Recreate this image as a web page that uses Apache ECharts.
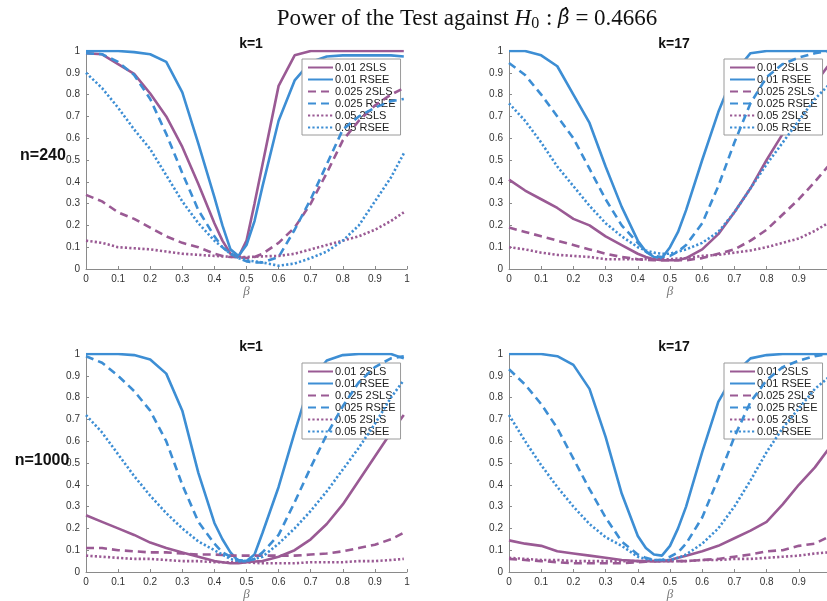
<!DOCTYPE html>
<html><head><meta charset="utf-8">
<script src="https://cdn.jsdelivr.net/npm/echarts@6/dist/echarts.min.js"></script>
<style>html,body{margin:0;padding:0;background:#fff}#c{width:827px;height:601px}</style>
</head><body><div id="c"></div>
<script>
// ---- data ----
const beta = [0,0.05,0.1,0.15,0.2,0.25,0.3,0.35,0.4,0.425,0.45,0.475,0.5,0.525,0.55,0.6,0.65,0.7,0.75,0.8,0.85,0.9,0.95,0.99];
const seriesNames = ['0.01 2SLS','0.01 RSEE','0.025 2SLS','0.025 RSEE','0.05 2SLS','0.05 RSEE'];
const panelTitles = ['k=1','k=17','k=1','k=17'];
const rowLabels = ['n=240','n=1000'];

// n=240, k=1
const n240k1_2sls01 = [0.99,0.985,0.94,0.895,0.805,0.70,0.56,0.39,0.21,0.13,0.07,0.055,0.13,0.3,0.48,0.84,0.98,1.0,1.0,1.0,1.0,1.0,1.0,1.0];
const n240k1_rsee01 = [1.0,1.0,1.0,0.995,0.985,0.95,0.81,0.575,0.33,0.2,0.09,0.06,0.11,0.22,0.38,0.68,0.865,0.95,0.975,0.98,0.98,0.98,0.98,0.975];
const n240k1_2sls025 = [0.34,0.31,0.26,0.23,0.19,0.15,0.12,0.1,0.07,0.06,0.055,0.055,0.05,0.055,0.07,0.12,0.19,0.3,0.44,0.59,0.68,0.75,0.8,0.83];
const n240k1_rsee025 = [0.99,0.985,0.95,0.89,0.78,0.62,0.44,0.27,0.15,0.1,0.07,0.05,0.035,0.03,0.03,0.055,0.18,0.32,0.48,0.64,0.7,0.74,0.77,0.78];
const n240k1_2sls05 = [0.13,0.12,0.1,0.095,0.09,0.08,0.07,0.065,0.06,0.058,0.056,0.055,0.055,0.056,0.058,0.06,0.07,0.09,0.11,0.13,0.15,0.18,0.22,0.26];
const n240k1_rsee05 = [0.9,0.83,0.74,0.64,0.55,0.43,0.31,0.21,0.13,0.1,0.07,0.05,0.04,0.035,0.03,0.015,0.025,0.05,0.08,0.13,0.2,0.31,0.42,0.53];

// n=240, k=17
const n240k17_2sls01 = [0.41,0.36,0.32,0.28,0.23,0.2,0.15,0.11,0.07,0.055,0.045,0.04,0.04,0.04,0.05,0.09,0.16,0.26,0.37,0.5,0.62,0.74,0.85,0.93];
const n240k17_rsee01 = [1.0,1.0,0.98,0.93,0.8,0.67,0.47,0.285,0.13,0.08,0.055,0.05,0.1,0.17,0.27,0.5,0.72,0.9,0.99,1.0,1.0,1.0,1.0,1.0];
const n240k17_2sls025 = [0.19,0.17,0.15,0.13,0.11,0.09,0.07,0.055,0.045,0.042,0.04,0.04,0.04,0.04,0.04,0.05,0.07,0.09,0.13,0.18,0.25,0.32,0.4,0.47];
const n240k17_rsee025 = [0.945,0.89,0.8,0.7,0.6,0.46,0.32,0.2,0.12,0.08,0.06,0.055,0.06,0.08,0.11,0.21,0.38,0.58,0.76,0.88,0.94,0.97,0.99,1.0];
const n240k17_2sls05 = [0.1,0.09,0.075,0.065,0.06,0.055,0.045,0.045,0.045,0.045,0.045,0.045,0.045,0.048,0.05,0.06,0.065,0.075,0.085,0.1,0.12,0.14,0.175,0.21];
const n240k17_rsee05 = [0.76,0.68,0.58,0.47,0.38,0.29,0.21,0.15,0.1,0.085,0.075,0.07,0.07,0.08,0.09,0.12,0.17,0.26,0.37,0.48,0.58,0.68,0.78,0.84];

// n=1000, k=1
const n1000k1_2sls01 = [0.26,0.23,0.2,0.17,0.135,0.11,0.09,0.07,0.05,0.045,0.04,0.04,0.045,0.048,0.05,0.07,0.1,0.15,0.22,0.31,0.42,0.53,0.64,0.72];
const n1000k1_rsee01 = [1.0,1.0,1.0,0.995,0.975,0.91,0.74,0.455,0.225,0.15,0.09,0.05,0.05,0.08,0.18,0.39,0.64,0.88,0.97,0.995,1.0,1.0,1.0,0.98];
const n1000k1_2sls025 = [0.11,0.11,0.1,0.095,0.09,0.09,0.085,0.08,0.08,0.078,0.075,0.075,0.075,0.075,0.075,0.075,0.075,0.08,0.085,0.095,0.11,0.125,0.15,0.18];
const n1000k1_rsee025 = [0.99,0.96,0.9,0.83,0.74,0.6,0.4,0.23,0.13,0.09,0.07,0.055,0.05,0.06,0.09,0.17,0.32,0.48,0.63,0.76,0.87,0.94,0.98,0.99];
const n1000k1_2sls05 = [0.075,0.07,0.065,0.06,0.06,0.055,0.05,0.05,0.045,0.045,0.045,0.045,0.045,0.042,0.04,0.04,0.04,0.045,0.045,0.045,0.05,0.05,0.055,0.06];
const n1000k1_rsee05 = [0.72,0.64,0.54,0.44,0.35,0.27,0.2,0.14,0.1,0.08,0.06,0.05,0.05,0.06,0.07,0.13,0.2,0.28,0.37,0.47,0.57,0.68,0.8,0.88];

// n=1000, k=17
const n1000k17_2sls01 = [0.145,0.13,0.12,0.095,0.085,0.075,0.065,0.055,0.05,0.05,0.05,0.05,0.055,0.065,0.075,0.095,0.12,0.155,0.19,0.23,0.31,0.4,0.48,0.56];
const n1000k17_rsee01 = [1.0,1.0,1.0,0.99,0.95,0.84,0.62,0.36,0.165,0.11,0.08,0.075,0.12,0.2,0.3,0.55,0.78,0.91,0.98,0.995,1.0,1.0,1.0,1.0];
const n1000k17_2sls025 = [0.06,0.055,0.05,0.045,0.04,0.04,0.04,0.04,0.045,0.047,0.05,0.05,0.05,0.05,0.05,0.055,0.06,0.07,0.08,0.095,0.1,0.12,0.13,0.16];
const n1000k17_rsee025 = [0.93,0.86,0.77,0.66,0.52,0.38,0.25,0.14,0.08,0.065,0.055,0.055,0.07,0.09,0.13,0.25,0.43,0.62,0.78,0.88,0.94,0.97,0.99,1.0];
const n1000k17_2sls05 = [0.065,0.06,0.055,0.055,0.05,0.05,0.05,0.05,0.05,0.05,0.05,0.05,0.05,0.05,0.05,0.055,0.055,0.06,0.06,0.065,0.07,0.075,0.085,0.09];
const n1000k17_rsee05 = [0.72,0.6,0.49,0.39,0.3,0.22,0.16,0.12,0.07,0.06,0.055,0.055,0.055,0.065,0.08,0.13,0.2,0.3,0.42,0.55,0.66,0.75,0.84,0.89];

const panels = [
  [n240k1_2sls01,n240k1_rsee01,n240k1_2sls025,n240k1_rsee025,n240k1_2sls05,n240k1_rsee05],
  [n240k17_2sls01,n240k17_rsee01,n240k17_2sls025,n240k17_rsee025,n240k17_2sls05,n240k17_rsee05],
  [n1000k1_2sls01,n1000k1_rsee01,n1000k1_2sls025,n1000k1_rsee025,n1000k1_2sls05,n1000k1_rsee05],
  [n1000k17_2sls01,n1000k17_rsee01,n1000k17_2sls025,n1000k17_rsee025,n1000k17_2sls05,n1000k17_rsee05]
];

// ---- layout / style ----
const PURPLE = '#9a5a94', BLUE = '#3d8ed4';
const colors = [PURPLE, BLUE, PURPLE, BLUE, PURPLE, BLUE];
const dashes = ['solid','solid',[8,5],[8,5],[2.2,2.2],[2.2,2.2]];
const grids = [
  {left:86, top:51, width:321, height:218, outerBoundsMode:'none', containLabel:false},
  {left:509, top:51, width:322, height:218, outerBoundsMode:'none', containLabel:false},
  {left:86, top:354, width:321, height:218, outerBoundsMode:'none', containLabel:false},
  {left:509, top:354, width:322, height:218, outerBoundsMode:'none', containLabel:false}
];
const legendPos = [
  {left:302, top:59},
  {left:724, top:59},
  {left:302, top:363},
  {left:724, top:363}
];
const sans = 'Liberation Sans, Arial, Helvetica, sans-serif';
const serif = 'Liberation Serif, DejaVu Serif, serif';
const axisCol = '#8a8a8a';

const xAxis = [], yAxis = [], series = [], legend = [];
const title = [{
  text: '{a|Power of the Test against }{i|H}{s|0}{a| : }{b|\u03B2\u0302}{a| = 0.4666}',
  left: 462, top: 1, textAlign: 'center',
  textStyle: { fontWeight:'normal', rich: {
    a: {fontFamily:serif, fontSize:23, fontWeight:'normal', color:'#111'},
    i: {fontFamily:serif, fontSize:23, fontWeight:'normal', fontStyle:'italic', color:'#111'},
    s: {fontFamily:serif, fontSize:16, fontWeight:'normal', color:'#111', padding:[10,1,0,0]},
    b: {fontFamily:'DejaVu Serif, serif', fontSize:20, fontWeight:'normal', fontStyle:'italic', color:'#111'}
  }}
}];

grids.forEach((g, i) => {
  xAxis.push({
    type:'value', gridIndex:i, min:0, max:1, interval:0.1,
    name:'\u03B2', nameLocation:'middle', nameGap:14,
    nameTextStyle:{fontFamily:'Liberation Serif, serif', fontStyle:'italic', fontSize:13, color:'#777'},
    axisLine:{show:true, lineStyle:{color:axisCol, width:1}},
    axisTick:{show:true, inside:true, length:3, lineStyle:{color:axisCol}},
    axisLabel:{color:'#333', fontSize:10, fontFamily:sans, margin:5,
      formatter: v => String(Math.round(v*10)/10)},
    splitLine:{show:false}
  });
  yAxis.push({
    type:'value', gridIndex:i, min:0, max:1, interval:0.1,
    axisLine:{show:true, lineStyle:{color:axisCol, width:1}},
    axisTick:{show:true, inside:true, length:3, lineStyle:{color:axisCol}},
    axisLabel:{color:'#333', fontSize:10, fontFamily:sans, margin:6,
      formatter: v => String(Math.round(v*10)/10)},
    splitLine:{show:false}
  });
  panels[i].forEach((vals, s) => {
    series.push({
      type:'line', name: seriesNames[s], xAxisIndex:i, yAxisIndex:i,
      data: beta.map((b, j) => [b, vals[j]]),
      showSymbol:false, symbol:'none', smooth:false, animation:false,
      lineStyle:{color:colors[s], width:2.6, type:dashes[s]},
      itemStyle:{color:colors[s]},
      z: 2 + s
    });
  });
  legend.push({
    data: seriesNames, orient:'vertical', left:legendPos[i].left, top:legendPos[i].top,
    backgroundColor:'#fff', borderColor:'#9a9a9a', borderWidth:1,
    padding:[3,5,2,5], itemGap:1, itemWidth:25, itemHeight:11.5,
    selectedMode:false,
    itemStyle:{opacity:0, borderWidth:0},
    textStyle:{fontSize:11, color:'#222', fontFamily:sans, padding:[0,0,0,-3]}
  });
  title.push({
    text: panelTitles[i], left: g.left + 160, top: g.top - 19, textAlign:'center',
    textStyle:{fontFamily:sans, fontWeight:'bold', fontSize:14, color:'#111'}
  });
});
title.push({text: rowLabels[0], left: 38, top: 143, textAlign:'center',
  textStyle:{fontFamily:sans, fontWeight:'bold', fontSize:16, color:'#111'}});
title.push({text: rowLabels[1], left: 37, top: 448, textAlign:'center',
  textStyle:{fontFamily:sans, fontWeight:'bold', fontSize:16, color:'#111'}});

const chart = echarts.init(document.getElementById('c'), null, {renderer:'canvas'});
chart.setOption({
  animation:false, backgroundColor:'#fff',
  title, grid: grids, xAxis, yAxis, series, legend
});
</script>
</body></html>
